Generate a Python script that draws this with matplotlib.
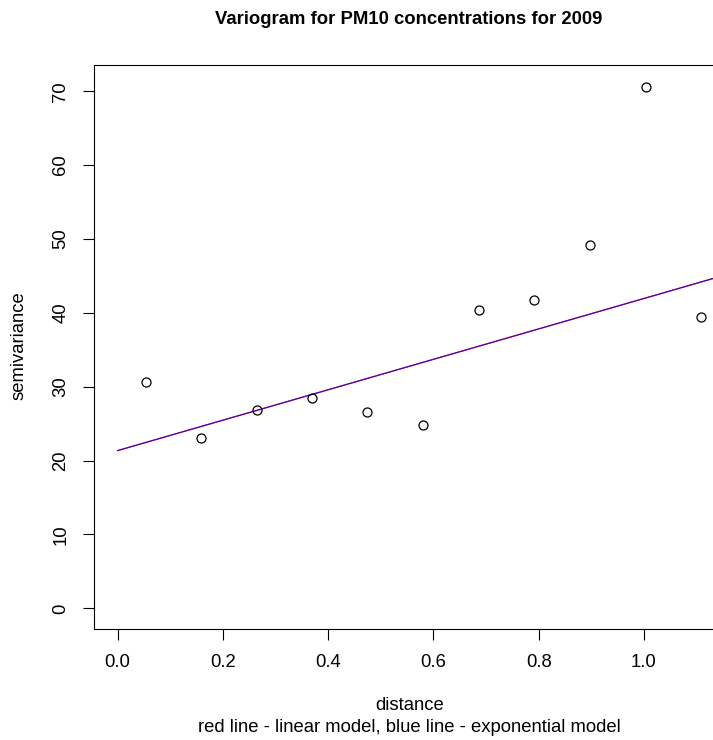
import numpy as np
import matplotlib.pyplot as plt

plt.rcParams['font.family'] = ['Liberation Sans', 'DejaVu Sans']

# Empirical variogram of PM10 (2009)
distance = [0.053, 0.158, 0.264, 0.369, 0.474, 0.580, 0.686, 0.791, 0.897, 1.003, 1.108]
semivariance = [30.7, 23.0, 26.9, 28.5, 26.6, 24.8, 40.4, 41.8, 49.2, 70.6, 39.4]

# Fitted models
lin_nugget, lin_slope = 21.35, 20.6
exp_nugget, exp_sill, exp_range = 21.35, 20600.0, 1000.0

x_ticks = [0.0, 0.2, 0.4, 0.6, 0.8, 1.0]
y_ticks = [0, 10, 20, 30, 40, 50, 60, 70]

W, H = 713, 740
fig = plt.figure(figsize=(W / 100, H / 100), dpi=100)
# plot region runs a little past the right edge of the canvas
ax = fig.add_axes([94.3 / W, 111 / H, (724 - 94.3) / W, 564 / H])
xmid = (94.3 + 724) / 2 / W

h = np.linspace(0, 1.2, 200)
ax.plot(h, lin_nugget + lin_slope * h, color='red', lw=0.9, zorder=2)
ax.plot(h, exp_nugget + exp_sill * (1 - np.exp(-h / exp_range)),
        color='blue', lw=0.9, alpha=0.7, zorder=3)

ax.plot(distance, semivariance, 'o', mfc='none', mec='black', ms=6.5, mew=0.9, zorder=4)

ax.set_xlim(-0.0443, 1.152)
ax.set_ylim(-2.8, 73.55)
ax.set_xticks(x_ticks)
ax.set_xticklabels(['%.1f' % v for v in x_ticks])
ax.set_yticks(y_ticks)
ax.set_yticklabels([str(v) for v in y_ticks], rotation=90, va='center')
ax.tick_params(axis='both', labelsize=13.3, length=8, width=0.8, pad=10)
for side in ['left', 'bottom', 'top', 'right']:
    ax.spines[side].set_linewidth(0.8)

fig.text(xmid, 1 - 20 / H, 'Variogram for PM10 concentrations for 2009',
         ha='center', va='center', fontsize=13.3, fontweight='bold')
fig.text(xmid, 1 - 706 / H, 'distance', ha='center', va='center', fontsize=13.3)
fig.text(xmid, 1 - 727 / H, 'red line - linear model, blue line - exponential model',
         ha='center', va='center', fontsize=13.3)
fig.text(19 / W, 1 - 346 / H, 'semivariance', ha='center', va='center',
         rotation=90, fontsize=13.3)

fig.savefig('out.png', dpi=100)
